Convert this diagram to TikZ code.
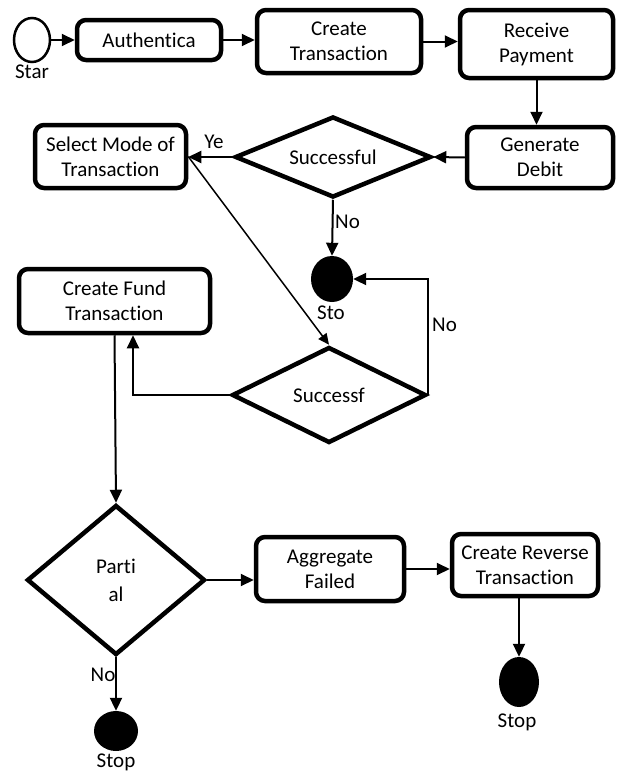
\documentclass[tikz,border=0pt]{standalone}
\usepackage{fontspec}
\setmainfont{Carlito}[Ligatures=NoCommon]
\usetikzlibrary{shapes.geometric,arrows.meta,calc}
\begin{document}
\begin{tikzpicture}[x=1pt,y=-1pt,
  every node/.style={font=\fontsize{21}{25}\selectfont},
  box/.style={draw,line width=4.5pt,rounded corners=9pt,align=center,inner sep=0pt},
  dec/.style={draw,diamond,line width=4.5pt,inner sep=0pt,align=center},
  startc/.style={draw,ellipse,line width=2.5pt,inner sep=0pt},
  stopc/.style={fill=black,ellipse,inner sep=0pt},
  conn/.style={line width=2pt,-{Triangle[length=13pt,width=12pt]}},
  thinconn/.style={line width=1.5pt,-{Triangle[length=11pt,width=10pt]}},
  lbl/.style={inner sep=0pt}]
\useasboundingbox (0,0) rectangle (618,771);
% nodes
\node[startc,minimum width=36pt,minimum height=44pt] (start) at (32,40) {};
\node[lbl] (startl) at (32,72) {Star};
\node[box,minimum width=144pt,minimum height=40pt] (auth) at (149,40) {Authentica};
\node[box,minimum width=164pt,minimum height=63pt] (ctrans) at (339,41.5) {Create\\Transaction};
\node[box,minimum width=153pt,minimum height=68pt] (recv) at (536.5,44) {Receive\\Payment};
\node[box,minimum width=146pt,minimum height=61pt] (gen) at (540,157.5) {Generate\\Debit};
\node[dec,aspect=2.35,minimum width=196pt,minimum height=81pt] (succ1) at (333,157) {Successful};
\node[box,minimum width=151pt,minimum height=63pt] (sel) at (110.5,156.5) {Select Mode of\\Transaction};
\node[stopc,minimum width=42pt,minimum height=46pt] (stop1) at (332,279) {};
\node[lbl] (stop1l) at (331,313) {Sto};
\node[box,minimum width=191pt,minimum height=64pt] (fund) at (114.5,301) {Create Fund\\Transaction};
\node[dec,aspect=2,minimum width=194pt,minimum height=96pt] (succ2) at (329,395) {Successf};
\node[dec,aspect=1.18,minimum width=178pt,minimum height=150pt] (part) at (116,580) {Parti\\[3pt]al};
\node[box,minimum width=148pt,minimum height=64pt] (agg) at (330,569) {Aggregate\\Failed};
\node[box,minimum width=146pt,minimum height=62pt] (rev) at (525,565) {Create Reverse\\Transaction};
\node[stopc,minimum width=40pt,minimum height=50pt] (stop2) at (519,682) {};
\node[lbl] (stop2l) at (517,722) {Stop};
\node[stopc,minimum width=44pt,minimum height=40pt] (stop3) at (116,731) {};
\node[lbl] (stop3l) at (116,762) {Stop};
% labels
\node[lbl] (ye) at (214,142) {Ye};
\node[lbl,anchor=west] (no1) at (335,222) {No};
\node[lbl,anchor=west] (no2) at (432,325) {No};
\node[lbl] (no3) at (103,675) {No};
% connectors
\draw[conn] (start.east) -- (auth.west);
\draw[conn] (auth.east) -- (auth.east -| ctrans.west);
\draw[conn] (ctrans.east) -- (ctrans.east -| recv.west);
\draw[conn] (recv.south) -- (recv.south |- gen.north);
\draw[conn] (gen.west) -- (succ1.east);
\draw[conn] (succ1.west) -- (succ1.west -| sel.east);
\draw[conn] (succ1.south) -- (stop1.north);
\draw[thinconn] (sel.east) -- (succ2.north);
\draw[conn] (succ2.east) |- (stop1.east);
\draw[conn] (succ2.west) -| ($(fund.south)+(18.5,0)$);
\draw[conn] (fund.south) -- (part.north);
\draw[conn] (part.east) -- (part.east -| agg.west);
\draw[conn] (agg.east) -- (agg.east -| rev.west);
\draw[conn] (rev.south -| stop2.north) -- (stop2.north);
\draw[conn] (part.south) -- (stop3.north);
\end{tikzpicture}
\end{document}
